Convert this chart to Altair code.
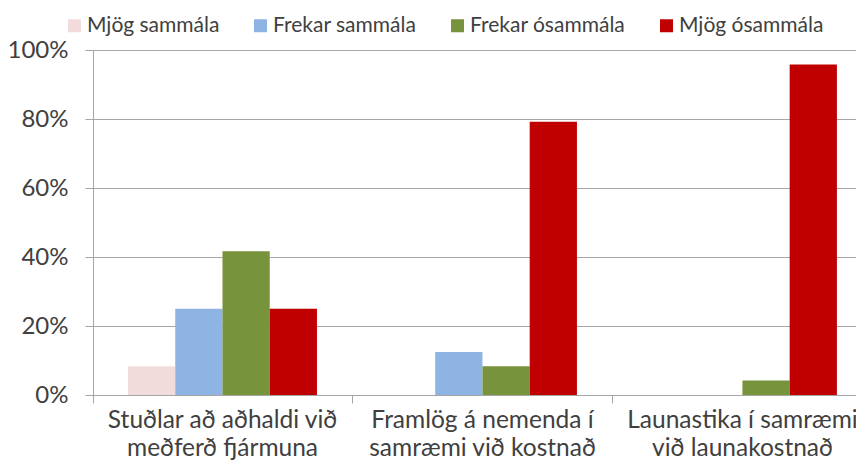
import altair as alt
import pandas as pd

categories = [
    "Stuðlar að aðhaldi við\nmeðferð fjármuna",
    "Framlög á nemenda í\nsamræmi við kostnað",
    "Launastika í samræmi\nvið launakostnað",
]
series = ["Mjög sammála", "Frekar sammála", "Frekar ósammála", "Mjög ósammála"]
colors = ["#f2dcdb", "#8eb4e3", "#77933c", "#c00000"]
values = {
    "Mjög sammála": [0.083, 0.0, 0.0],
    "Frekar sammála": [0.25, 0.125, 0.0],
    "Frekar ósammála": [0.417, 0.083, 0.042],
    "Mjög ósammála": [0.25, 0.792, 0.958],
}

rows = []
for s in series:
    for c, v in zip(categories, values[s]):
        rows.append({"cat": c, "series": s, "value": v})
df = pd.DataFrame(rows)

FONT = "Lato"
TXT = "#404040"
GRID = "#a6a6a6"

chart = alt.Chart(df).mark_bar().encode(
    x=alt.X("cat:N", sort=categories,
            scale=alt.Scale(paddingInner=0.065, paddingOuter=0),
            axis=alt.Axis(title=None, labelAngle=0, labelFontSize=24.5, labelFont=FONT,
                          labelColor=TXT, labelPadding=5, labelLineHeight=28,
                          labelExpr="split(datum.label, '\\n')", bandPosition=0,
                          labelOffset=8,
                          tickSize=8, tickColor=GRID, domainColor=GRID, grid=False,
                          labelLimit=400)),
    xOffset=alt.XOffset("series:N", sort=series,
                        scale=alt.Scale(paddingInner=0, paddingOuter=0.5725, align=0.647)),
    y=alt.Y("value:Q", scale=alt.Scale(domain=[0, 1], nice=False),
            axis=alt.Axis(title=None, values=[0, 0.2, 0.4, 0.6, 0.8, 1.0], format=".0%",
                          labelFontSize=24, labelFont=FONT, labelColor=TXT, labelPadding=17,
                          tickSize=8, tickColor=GRID, gridColor=GRID, domainColor=GRID,
                          grid=True)),
    color=alt.Color("series:N", sort=series,
                    scale=alt.Scale(domain=series, range=colors),
                    legend=alt.Legend(title=None, orient="none", direction="horizontal",
                                      legendX=-29, legendY=-35, symbolType="square",
                                      symbolSize=169, symbolStrokeWidth=0,
                                      labelFontSize=21, labelFont=FONT, labelColor=TXT,
                                      labelOffset=2, columnPadding=30)),
).properties(
    width=763, height=345,
    autosize=alt.AutoSizeParams(type="none"),
    padding={"left": 85, "top": 42, "right": 0, "bottom": 70},
).configure_view(stroke=None).configure_axisX(labelLineHeight=28)

chart.save("out.html", embed_options={"renderer": "svg", "actions": False})
